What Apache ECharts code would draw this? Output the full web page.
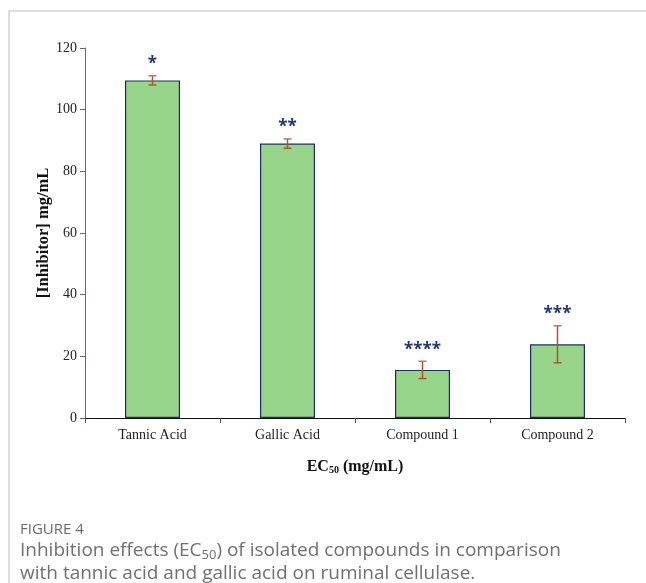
<!DOCTYPE html>
<html><head><meta charset="utf-8">
<script src="https://cdn.jsdelivr.net/npm/echarts@6/dist/echarts.min.js"></script>
<style>html,body{margin:0;padding:0;background:#fff}#c{width:646px;height:583px}</style>
</head><body><div id="c"></div>
<script>
const categories = ['Tannic Acid', 'Gallic Acid', 'Compound 1', 'Compound 2'];
const values = [109.5, 89.0, 15.6, 23.9];
const errors = [1.5, 1.5, 2.8, 6.0];
const stars = ['*', '**', '****', '***'];
const yTicks = [0, 20, 40, 60, 80, 100, 120];

const chart = echarts.init(document.getElementById('c'), null, {renderer: 'canvas'});
const serif = '"Liberation Serif", "Times New Roman", serif';
const sans = '"Open Sans", "Noto Sans", sans-serif';

chart.setOption({
  animation: false,
  backgroundColor: '#fff',
  grid: {left: 85, right: 21, top: 48, bottom: 165, containLabel: false},
  xAxis: {
    type: 'category', data: categories,
    axisLine: {lineStyle: {color: '#111', width: 1}},
    axisTick: {show: true, length: 5, lineStyle: {color: '#555'}},
    axisLabel: {fontFamily: serif, fontSize: 14, color: '#222', margin: 10},
    name: '{a|EC}{s|50}{a| (mg/mL)}', nameLocation: 'middle', nameGap: 40,
    nameMoveOverlap: false,
    nameTextStyle: {rich: {
      a: {fontFamily: serif, fontSize: 16, fontWeight: 'bold', color: '#111'},
      s: {fontFamily: serif, fontSize: 10, fontWeight: 'bold', color: '#111', verticalAlign: 'bottom', padding: [7, 0, 0, 0]}
    }}
  },
  yAxis: {
    type: 'value', min: yTicks[0], max: yTicks[yTicks.length - 1], interval: 20,
    axisLine: {show: true, lineStyle: {color: '#5568a0', width: 1}},
    axisTick: {show: true, length: 5, lineStyle: {color: '#5568a0'}},
    splitLine: {show: false},
    axisLabel: {fontFamily: serif, fontSize: 14, color: '#222', margin: 8},
    name: '[Inhibitor] mg/mL', nameLocation: 'middle', nameGap: 33,
    nameMoveOverlap: false,
    nameTextStyle: {fontFamily: serif, fontSize: 16.5, fontWeight: 'bold', color: '#111'}
  },
  series: [
    {
      type: 'bar', data: values, barWidth: 55,
      itemStyle: {color: '#97d68a', borderColor: '#1c2a6b', borderWidth: 1.2}
    },
    {
      type: 'custom', data: values.map((v, i) => [i, v, errors[i]]),
      z: 5,
      renderItem: function (params, api) {
        const i = api.value(0), v = api.value(1), e = api.value(2);
        const top = api.coord([i, v + e]);
        const bot = api.coord([i, v - e]);
        const half = 4;
        return {type: 'group', children: [
          {type: 'line', shape: {x1: top[0], y1: top[1], x2: bot[0], y2: bot[1]}, style: {stroke: '#b5502a', lineWidth: 1.5}},
          {type: 'line', shape: {x1: top[0] - half, y1: top[1], x2: top[0] + half, y2: top[1]}, style: {stroke: '#c8734a', lineWidth: 1.5}},
          {type: 'line', shape: {x1: bot[0] - half, y1: bot[1], x2: bot[0] + half, y2: bot[1]}, style: {stroke: '#b5502a', lineWidth: 1.5}}
        ]};
      }
    },
    {
      type: 'custom', data: values.map((v, i) => [i, v + errors[i]]),
      z: 6,
      renderItem: function (params, api) {
        const idx = params.dataIndex;
        const p = api.coord([api.value(0), api.value(1)]);
        return {type: 'text', x: p[0], y: p[1] - 3, style: {
          text: stars[idx], fontSize: 17, fontWeight: 'bold', fontFamily: sans,
          fill: '#1f3577', align: 'center', verticalAlign: 'bottom'
        }};
      }
    }
  ],
  graphic: [
    {type: 'polyline', shape: {points: [[9, 583], [9, 11], [646, 11]]}, style: {stroke: '#d4d4d4', lineWidth: 1.5, fill: null}},
    {type: 'text', left: 20, top: 522, style: {text: 'FIGURE 4', fontFamily: sans, fontSize: 15, fill: '#6a6a6a'}},
    {type: 'text', left: 20, top: 541, style: {
      text: '{a|Inhibition effects (EC}{s|50}{a|) of isolated compounds in comparison}\n{a|with tannic acid and gallic acid on ruminal cellulase.}',
      rich: {
        a: {fontFamily: sans, fontSize: 19, fill: '#707070', lineHeight: 23},
        s: {fontFamily: sans, fontSize: 13, fill: '#707070', lineHeight: 23, verticalAlign: 'bottom', padding: [7, 0, 0, 0]}
      }
    }}
  ]
});
</script></body></html>
